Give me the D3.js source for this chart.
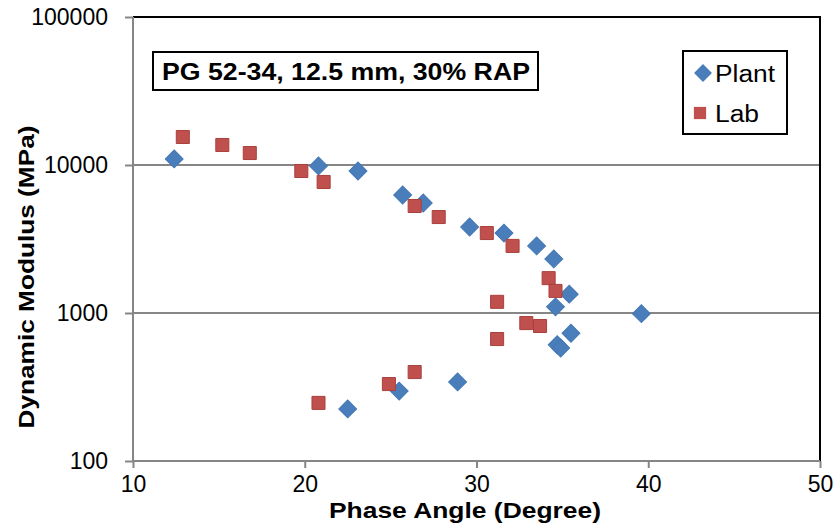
<!DOCTYPE html>
<html lang="en">
  <head>
    <meta charset="UTF-8" />
    <title>Dynamic Modulus vs Phase Angle</title>
    <script src="https://cdnjs.cloudflare.com/ajax/libs/d3/7.8.5/d3.min.js"></script>
    <style>
      body,
      html {
        margin: 0;
        padding: 0;
        background: #fff;
      }
      svg {
        display: block;
      }
      text {
        font-family: "Liberation Sans", Arial, sans-serif;
        fill: #000;
      }
    </style>
  </head>
  <body>
    <svg width="834" height="527"></svg>
    <script type="text/javascript">
      // Plant mix (diamonds): phase angle (deg), dynamic modulus (MPa)
      const plantPhase = [12.4, 20.8, 23.1, 25.7, 26.9, 29.6, 31.6, 33.5, 34.5, 35.4, 34.6, 35.5, 34.7, 34.9, 39.6, 28.9, 25.5, 22.5];
      const plantModulus = [10990, 9850, 9110, 6270, 5535, 3810, 3470, 2840, 2320, 1340, 1100, 730, 610, 580, 990, 342, 297, 225];

      // Lab mix (squares)
      const labPhase = [12.9, 15.2, 16.8, 19.8, 21.1, 26.4, 27.8, 30.6, 32.1, 34.2, 34.6, 31.2, 32.9, 33.7, 31.2, 26.4, 24.9, 20.8];
      const labModulus = [15460, 13650, 12050, 9110, 7680, 5285, 4450, 3470, 2840, 1720, 1410, 1190, 855, 817, 667, 399, 331, 247];

      const xTicks = [10, 20, 30, 40, 50];
      const yTicks = [100, 1000, 10000, 100000];

      const plant = plantPhase.map((p, i) => ({ x: p, y: plantModulus[i] }));
      const lab = labPhase.map((p, i) => ({ x: p, y: labModulus[i] }));

      const svg = d3.select("svg");
      const plotLeft = 133, plotRight = 820, plotTop = 17, plotBottom = 461;

      const x = d3.scaleLinear().domain([10, 50]).range([plotLeft, plotRight]);
      const y = d3.scaleLog().domain([100, 100000]).range([plotBottom, plotTop]);

      // gridlines (major, inner only)
      svg
        .append("g")
        .selectAll("line")
        .data(yTicks.slice(1, -1))
        .join("line")
        .attr("x1", plotLeft)
        .attr("x2", plotRight)
        .attr("y1", (d) => y(d))
        .attr("y2", (d) => y(d))
        .attr("stroke", "#868686")
        .attr("stroke-width", 2);

      // plot border top / right
      svg
        .append("path")
        .attr("d", `M${plotLeft},${plotTop}H${plotRight}V${plotBottom}`)
        .attr("fill", "none")
        .attr("stroke", "#000")
        .attr("stroke-width", 2);

      // axes
      const yAxis = svg
        .append("g")
        .attr("transform", `translate(${plotLeft},0)`)
        .call(
          d3
            .axisLeft(y)
            .tickValues(yTicks)
            .tickFormat(d3.format("d"))
            .tickSize(8)
            .tickPadding(17)
        );
      const xAxis = svg
        .append("g")
        .attr("transform", `translate(0,${plotBottom})`)
        .call(
          d3
            .axisBottom(x)
            .tickValues(xTicks)
            .tickFormat(d3.format("d"))
            .tickSize(7)
            .tickPadding(8)
        );
      [yAxis, xAxis].forEach((ax) => {
        ax.select(".domain").attr("stroke", "#868686").attr("stroke-width", 2);
        ax.selectAll(".tick line").attr("stroke", "#868686").attr("stroke-width", 2);
        ax.selectAll(".tick text")
          .attr("font-family", "Liberation Sans, Arial, sans-serif")
          .attr("font-size", 23)
          .attr("fill", "#000");
      });
      xAxis.select(".domain").attr("d", `M${plotLeft},0H${plotRight}`);
      yAxis.select(".domain").attr("d", `M0,${plotBottom}V${plotTop}`);

      // markers
      const diamond = d3.symbol(d3.symbolSquare, 160);
      const square = d3.symbol(d3.symbolSquare, 170);

      svg
        .append("g")
        .selectAll("path")
        .data(plant)
        .join("path")
        .attr("d", diamond)
        .attr("transform", (d) => `translate(${x(d.x)},${y(d.y)}) rotate(45)`)
        .attr("fill", "#4a7ebb")
        .attr("stroke", "#4477b4")
        .attr("stroke-width", 1);

      svg
        .append("g")
        .selectAll("path")
        .data(lab)
        .join("path")
        .attr("d", square)
        .attr("transform", (d) => `translate(${x(d.x)},${y(d.y)})`)
        .attr("fill", "#c0504d")
        .attr("stroke", "#a9403d")
        .attr("stroke-width", 1);

      // axis titles
      svg
        .append("text")
        .attr("x", 465)
        .attr("y", 518)
        .attr("text-anchor", "middle")
        .attr("font-weight", "bold")
        .attr("font-size", 22)
        .attr("textLength", 272)
        .attr("lengthAdjust", "spacingAndGlyphs")
        .text("Phase Angle (Degree)");

      svg
        .append("text")
        .attr("transform", "translate(34,277) rotate(-90)")
        .attr("text-anchor", "middle")
        .attr("font-weight", "bold")
        .attr("font-size", 22)
        .attr("textLength", 303)
        .attr("lengthAdjust", "spacingAndGlyphs")
        .text("Dynamic Modulus (MPa)");

      // title box
      svg
        .append("rect")
        .attr("x", 153)
        .attr("y", 52)
        .attr("width", 385)
        .attr("height", 38)
        .attr("fill", "#fff")
        .attr("stroke", "#000")
        .attr("stroke-width", 2);
      svg
        .append("text")
        .attr("x", 162)
        .attr("y", 80)
        .attr("font-weight", "bold")
        .attr("font-size", 24)
        .attr("textLength", 368)
        .attr("lengthAdjust", "spacingAndGlyphs")
        .text("PG 52-34, 12.5 mm, 30% RAP");

      // legend
      svg
        .append("rect")
        .attr("x", 683)
        .attr("y", 51)
        .attr("width", 104)
        .attr("height", 83)
        .attr("fill", "#fff")
        .attr("stroke", "#000")
        .attr("stroke-width", 2);
      const legend = [
        { name: "Plant", sym: diamond, rot: 45, color: "#4a7ebb", cy: 73 },
        { name: "Lab", sym: d3.symbol(d3.symbolSquare, 150), rot: 0, color: "#c0504d", cy: 113 },
      ];
      const lg = svg.append("g").selectAll("g").data(legend).join("g");
      lg.append("path")
        .attr("d", (d) => d.sym())
        .attr("transform", (d) => `translate(${d.rot ? 703 : 700},${d.cy}) rotate(${d.rot})`)
        .attr("fill", (d) => d.color);
      lg.append("text")
        .attr("x", 715)
        .attr("y", (d) => d.cy + 9)
        .attr("font-size", 23)
        .attr("textLength", (d) => (d.name === "Plant" ? 60 : 44))
        .attr("lengthAdjust", "spacingAndGlyphs")
        .text((d) => d.name);
    </script>
  </body>
</html>
